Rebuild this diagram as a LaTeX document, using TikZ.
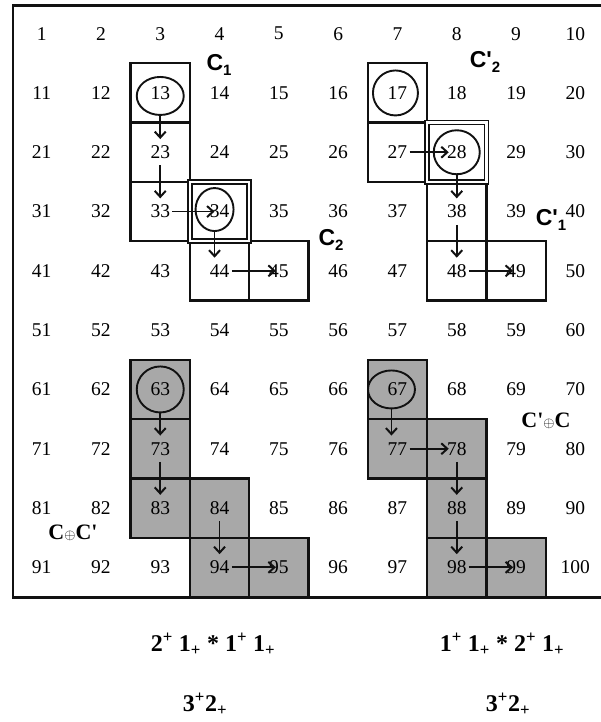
\documentclass[tikz,border=0pt]{standalone}
\usepackage{fontspec}
\setmainfont{Liberation Serif}
\newfontfamily\labelsans{Liberation Sans}
\usepackage{tikz}
\usetikzlibrary{arrows.meta,positioning,backgrounds,shapes.geometric}
\definecolor{gridink}{HTML}{111111}
\definecolor{cellgray}{HTML}{A8A8A8}
\newcommand\lowidx[1]{\raisebox{-0.45ex}{\fontsize{15}{15}\selectfont #1}}
\newcommand\smallplus{{\fontsize{14}{14}\selectfont$\oplus$}}

\begin{document}
\begin{tikzpicture}[
  x=1pt,y=1pt,
  num/.style={inner sep=0pt,minimum width=24pt,minimum height=26pt,
              font=\fontsize{19.5}{19.5}\selectfont},
  plainbox/.style={draw=gridink,line width=2.3pt,minimum size=59.3pt,inner sep=0pt},
  shadebox/.style={plainbox,fill=cellgray},
  dblbox/.style={plainbox,line width=1.7pt,double=white,double distance=2.4pt},
  ring/.style={ellipse,draw=gridink,line width=1.9pt,minimum width=46pt,
               minimum height=44pt,inner sep=0pt},
  arr/.style={-{Straight Barb[length=6pt,width=11pt,line width=2pt]},line width=1.8pt,
              color=gridink},
  clabel/.style={font=\labelsans\bfseries\fontsize{23}{23}\selectfont},
  sumlabel/.style={font=\bfseries\fontsize{22}{22}\selectfont},
  formula/.style={font=\bfseries\fontsize{24}{24}\selectfont}
]
\useasboundingbox (0,0) rectangle (601,-722);

% the 10 x 10 grid of numbers
\foreach \i in {1,...,100}{
  \pgfmathtruncatemacro\cx{mod(\i-1,10)}
  \pgfmathtruncatemacro\ry{div(\i-1,10)}
  \node[num] (n\i) at ({12+59.3*(\cx+0.5)},{-4-59.3*(\ry+0.5)}) {\i};
}

% cell boxes behind the numbers
\begin{scope}[on background layer]
  \foreach \i in {13,23,33,44,45,17,27,38,48,49}
    \node[plainbox] (b\i) at (n\i) {};
  \foreach \i in {34,28}
    \node[dblbox] (b\i) at (n\i) {};
  \foreach \i in {63,73,83,84,94,95,67,77,78,88,98,99}
    \node[shadebox] (b\i) at (n\i) {};
\end{scope}
\draw[gridink,line width=2.6pt] (13,-5.5) rectangle (615,-597.5);

% rings
\node[ring,minimum width=47pt,minimum height=38pt,yshift=-3pt] (e13) at (n13) {};
\node[ring,minimum width=38pt,minimum height=43pt,xshift=-5pt,yshift=2pt] (e34) at (n34) {};
\node[ring,minimum width=45pt,minimum height=45pt,xshift=-2pt] (e17) at (n17) {};
\node[ring] (e28) at (n28) {};
\node[ring,minimum width=47pt,minimum height=46pt] (e63) at (n63) {};
\node[ring,minimum width=47pt,minimum height=38pt,xshift=-6pt] (e67) at (n67) {};

% chains
\draw[arr] (e13) -- (n23);
\draw[arr] (n23) -- (n33);
\draw[arr,shorten >=5pt] (n33) -- (n34.center);
\draw[arr] (e34.south) -- (e34.south |- n44.north);
\draw[arr,shorten >=3pt] (n44) -- (n45.center);

\draw[arr,shorten >=8pt] (n27) -- (n28.center);
\draw[arr] (e28) -- (n38);
\draw[arr] (n38) -- (n48);
\draw[arr,shorten >=3pt] (n48) -- (n49.center);

\draw[arr] (e63) -- (n73);
\draw[arr] (n73) -- (n83);
\draw[arr] (n84) -- (n94);
\draw[arr,shorten >=3pt] (n94) -- (n95.center);

\draw[arr] (e67.south) -- (e67.south |- n77.north);
\draw[arr,shorten >=8pt] (n77) -- (n78.center);
\draw[arr] (n78) -- (n88);
\draw[arr] (n88) -- (n98);
\draw[arr,shorten >=3pt] (n98) -- (n99.center);

% labels
\node[clabel] (lc1) at (219,-65) {C\lowidx{1}};
\node[clabel] (lc2) at (331,-240) {C\lowidx{2}};
\node[clabel] (ld2) at (485,-62) {C\textquotesingle\lowidx{2}};
\node[clabel] (ld1) at (551,-220) {C\textquotesingle\lowidx{1}};
\node[sumlabel] (s1) at (73,-533) {C\smallplus C\textquotesingle};
\node[sumlabel] (s2) at (546,-421) {C\textquotesingle\smallplus C};

\node[formula] (f1) at (213,-644)
  {2\textsuperscript{+} 1\textsubscript{+} * 1\textsuperscript{+} 1\textsubscript{+}};
\node[formula] (f2) at (502,-644)
  {1\textsuperscript{+} 1\textsubscript{+} * 2\textsuperscript{+} 1\textsubscript{+}};
\node[formula] (g1) at (205,-704) {3\textsuperscript{+}2\textsubscript{+}};
\node[formula] (g2) at (508,-704) {3\textsuperscript{+}2\textsubscript{+}};
\end{tikzpicture}
\end{document}
